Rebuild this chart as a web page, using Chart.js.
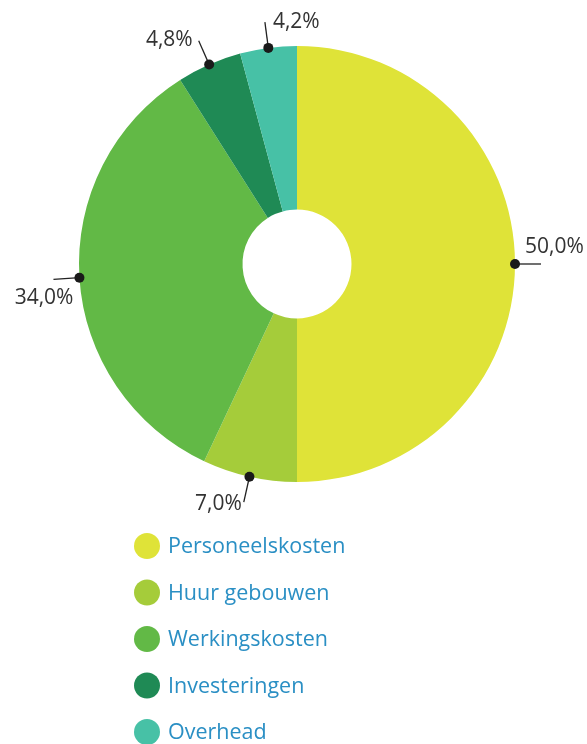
<!DOCTYPE html>
<html><head><meta charset="utf-8">
<script src="https://cdn.jsdelivr.net/npm/chart.js@4"></script>
<style>html,body{margin:0;padding:0;background:#fff}#wrap{width:587px;height:744px;position:relative}</style>
</head><body><div id="wrap"><canvas id="c" width="587" height="744"></canvas></div>
<script>
const categories = ["Personeelskosten", "Huur gebouwen", "Werkingskosten", "Investeringen", "Overhead"];
const values = [50.0, 7.0, 34.0, 4.8, 4.2];
const valueLabels = ["50,0%", "7,0%", "34,0%", "4,8%", "4,2%"];
const colors = ["#dfe338", "#a5cc3a", "#62b946", "#1f8a55", "#47c1a6"];

const labelPlugin = {
  id: 'leaders',
  afterDatasetsDraw(chart) {
    const ctx = chart.ctx;
    const meta = chart.getDatasetMeta(0);
    ctx.save();
    ctx.font = '21px "Open Sans"';
    meta.data.forEach((arc, i) => {
      const mid = (arc.startAngle + arc.endAngle) / 2;
      const dx = Math.cos(mid), dy = Math.sin(mid);
      const r = arc.outerRadius;
      const px = arc.x + dx * r, py = arc.y + dy * r;
      const L = 26;
      const ex = px + dx * L, ey = py + dy * L;
      ctx.strokeStyle = '#222'; ctx.lineWidth = 1.3;
      ctx.beginPath(); ctx.moveTo(px, py); ctx.lineTo(ex, ey); ctx.stroke();
      ctx.fillStyle = '#1a1a1a';
      ctx.beginPath(); ctx.arc(px, py, 5, 0, Math.PI * 2); ctx.fill();
      ctx.fillStyle = '#333';
      ctx.textBaseline = 'middle';
      let tx, ty;
      if (Math.abs(dx) > 0.9) {
        if (dx > 0) { ctx.textAlign = 'left'; tx = ex - 16; ty = ey - 17; }
        else { ctx.textAlign = 'right'; tx = ex + 20; ty = ey + 19; }
      } else if (dy > 0) {
        ctx.textAlign = 'right'; tx = ex - 2; ty = ey + 2;
      } else if (Math.abs(dx) < 0.2) {
        ctx.textAlign = 'left'; tx = ex + 8; ty = ey;
      } else {
        ctx.textAlign = 'right'; tx = ex - 6; ty = ey - 1;
      }
      ctx.fillText(valueLabels[i], tx, ty);
    });
    ctx.restore();
  }
};

const legendPlugin = {
  id: 'vlegend',
  afterDraw(chart) {
    const ctx = chart.ctx;
    ctx.save();
    ctx.font = '21.5px "Open Sans"';
    ctx.textBaseline = 'middle';
    ctx.textAlign = 'left';
    categories.forEach((c, i) => {
      const y = 546 + i * 46.5;
      ctx.fillStyle = colors[i];
      ctx.beginPath(); ctx.arc(147, y, 13, 0, Math.PI * 2); ctx.fill();
      ctx.fillStyle = '#2a8fc4';
      ctx.fillText(c, 168, y + 1);
    });
    ctx.restore();
  }
};

new Chart(document.getElementById('c'), {
  type: 'doughnut',
  data: { labels: categories, datasets: [{ data: values, backgroundColor: colors, borderWidth: 0, hoverOffset: 0 }] },
  options: {
    responsive: false,
    animation: false,
    cutout: '25%',
    layout: { padding: { left: 79, right: 72, top: 46, bottom: 262 } },
    plugins: { legend: { display: false }, tooltip: { enabled: false } }
  },
  plugins: [labelPlugin, legendPlugin]
});
</script></body></html>
